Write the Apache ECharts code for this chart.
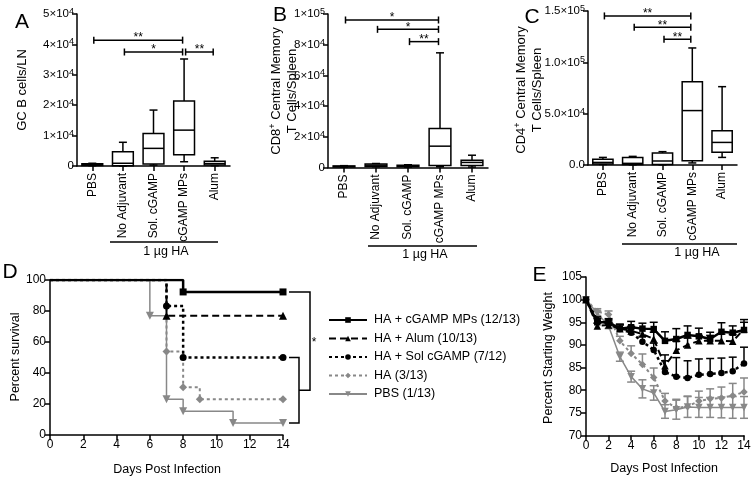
<!DOCTYPE html>
<html><head><meta charset="utf-8">
<script src="https://cdn.jsdelivr.net/npm/echarts@6/dist/echarts.min.js"></script>
<style>html,body{margin:0;padding:0;background:#fff}#c{width:754px;height:482px}</style>
</head><body><div id="c"></div><script>
// ---------- DATA ----------
const groups = ['PBS', 'No Adjuvant', 'Sol. cGAMP', 'cGAMP MPs', 'Alum'];
// box plots: [min, Q1, median, Q3, max]
const boxA = [[100,200,400,700,900],[0,100,900,4700,7800],[300,650,5800,10700,18400],[1400,3700,11800,21400,35200],[100,300,800,1600,2700]];
const boxB = [[200,400,700,1000,1200],[500,700,1500,2300,2600],[300,500,900,1500,1800],[500,1300,13900,25400,74700],[300,1300,3300,4800,8000]];
const boxC = [[500,1000,2500,5500,7400],[200,400,1600,7400,8400],[200,500,3900,11700,13000],[2000,4200,53000,81200,114000],[7400,12300,22000,33400,76300]];
// significance brackets: [fromGroup, toGroup, yValue, label]
const sigA = [[0,3,41400,'**'],[1,3,37500,'*'],[3,4,37500,'**']];
const sigB = [[0,3,96100,'*'],[1,3,90000,'*'],[2,3,82000,'**']];
const sigC = [[0,3,145200,'**'],[1,3,134200,'**'],[2,3,122500,'**']];
const ticksA = ['0','1×10^4','2×10^4','3×10^4','4×10^4','5×10^4'];
const ticksB = ['0','2×10^4','4×10^4','6×10^4','8×10^4','1×10^5'];
const ticksC = ['0.0','5.0×10^4','1.0×10^5','1.5×10^5'];

const seriesNames = ['HA + cGAMP MPs (12/13)','HA + Alum (10/13)','HA + Sol cGAMP (7/12)','HA (3/13)','PBS (1/13)'];
// survival (Kaplan-Meier)
const survMPsX = [0,8,14],        survMPsY = [100,92.3,92.3];
const survAlumX = [0,7,14],       survAlumY = [100,76.9,76.9];
const survSolX = [0,7,8,14],      survSolY = [100,83.3,50,50];
const survHAX = [0,7,8,9,14],     survHAY = [100,53.8,30.8,23.1,23.1];
const survPBSX = [0,6,7,8,11,14], survPBSY = [100,76.9,23.1,15.4,7.7,7.7];

// weight
const days = [0,1,2,3,4,5,6,7,8,9,10,11,12,13,14];
const wMPs  = [100,95.0,95.0,93.6,93.9,93.6,93.5,90.9,91.3,92.2,91.9,91.3,92.9,92.7,93.3];
const eMPs  = [0,0.8,0.8,1.0,1.3,1.2,1.5,2.0,2.3,2.0,1.8,1.5,2.0,1.5,2.3];
const wAlum = [100,94.2,94.4,93.6,93.1,92.4,91.3,85.4,88.8,90.0,90.9,90.9,90.9,90.8,93.5];
const eAlum = [0,0.6,0.6,0.8,1.0,1.2,1.5,2.4,2.0,1.5,1.2,1.2,1.5,1.5,1.5];
const wSol  = [100,95.5,94.7,93.5,92.7,90.7,88.9,84.0,83.0,82.7,83.4,83.6,83.8,84.2,85.9];
const eSol  = [0,0.7,0.8,1.0,1.0,1.2,1.5,2.5,4.2,3.8,3.5,3.4,3.3,3.1,3.6];
const wHA   = [100,97.4,96.7,90.9,88.1,85.7,82.8,77.6,76.1,76.4,77.6,78.1,78.3,78.8,79.6];
const eHA   = [0,0.6,0.8,1.0,1.7,2.3,2.1,1.7,1.9,2.3,2.2,2.2,2.4,2.7,3.1];
const wPBS  = [100,97.0,94.2,87.4,83.0,80.3,79.4,75.3,75.7,76.3,76.2,76.2,76.2,76.2,76.2];
const ePBS  = [0,0.5,0.6,1.0,1.2,2.0,1.6,1.5,2.1,2.3,2.2,2.2,2.3,2.4,2.4];

// ---------- STYLE ----------
const FF = '"Liberation Sans", Arial, sans-serif';
const BLACK = '#000', GRAY = '#888';
const supRich = {
  b: {fontSize: 11.5, lineHeight: 14, fontFamily: FF, color: BLACK},
  s: {fontSize: 9, lineHeight: 10, verticalAlign: 'top', fontFamily: FF, color: BLACK}
};
function supText(t) {
  const p = t.split('^');
  return p.length > 1 ? '{b|' + p[0] + '}{s|' + p[1] + '}' : '{b|' + p[0] + '}';
}
const axLine = {show: true, lineStyle: {color: BLACK, width: 1.5}};
const axTick = {show: true, length: 5, inside: false, lineStyle: {color: BLACK, width: 1.5}};

function catX(gi) {
  return {type: 'category', gridIndex: gi, data: groups, boundaryGap: true,
    axisLine: axLine, axisTick: Object.assign({alignWithLabel: true}, axTick),
    axisLabel: {rotate: 90, interval: 0, fontSize: 12, color: BLACK, fontFamily: FF, margin: 7},
    splitLine: {show: false}};
}
function valY(gi, max, interval, ticks) {
  return {type: 'value', gridIndex: gi, min: 0, max: max, interval: interval,
    axisLine: axLine, axisTick: axTick, splitLine: {show: false},
    axisLabel: {margin: 3, formatter: v => supText(ticks[Math.round(v / interval)]), rich: supRich}};
}
function numAxis(gi, min, max, interval, extra) {
  return Object.assign({type: 'value', gridIndex: gi, min: min, max: max, interval: interval,
    axisLine: axLine, axisTick: axTick, splitLine: {show: false},
    axisLabel: {fontSize: 12, color: BLACK, fontFamily: FF, margin: 4}}, extra || {});
}

function boxRender(params, api) {
  const x = api.value(0);
  const p = k => api.coord([x, api.value(k)]);
  const pmin = p(1), pq1 = p(2), pmed = p(3), pq3 = p(4), pmax = p(5);
  const bw = api.size([1, 0])[0] * 0.68, cw = 8, cx = pmin[0];
  const st = {stroke: BLACK, lineWidth: 1.5, fill: null};
  return {type: 'group', children: [
    {type: 'line', shape: {x1: cx, y1: pmax[1], x2: cx, y2: pmin[1]}, style: st},
    {type: 'line', shape: {x1: cx - cw / 2, y1: pmax[1], x2: cx + cw / 2, y2: pmax[1]}, style: st},
    {type: 'line', shape: {x1: cx - cw / 2, y1: pmin[1], x2: cx + cw / 2, y2: pmin[1]}, style: st},
    {type: 'rect', shape: {x: cx - bw / 2, y: pq3[1], width: bw, height: Math.max(pq1[1] - pq3[1], 1)}, style: {stroke: BLACK, lineWidth: 1.5, fill: '#fff'}},
    {type: 'line', shape: {x1: cx - bw / 2, y1: pmed[1], x2: cx + bw / 2, y2: pmed[1]}, style: st}
  ]};
}
function sigRender(params, api) {
  const a = api.coord([api.value(0), api.value(2)]);
  const b = api.coord([api.value(1), api.value(2)]);
  const x1 = a[0] + 1.5, x2 = b[0] - 1.5, y = a[1];
  const st = {stroke: BLACK, lineWidth: 1.5};
  return {type: 'group', children: [
    {type: 'line', shape: {x1: x1, y1: y, x2: x2, y2: y}, style: st},
    {type: 'line', shape: {x1: x1, y1: y - 3.5, x2: x1, y2: y + 3.5}, style: st},
    {type: 'line', shape: {x1: x2, y1: y - 3.5, x2: x2, y2: y + 3.5}, style: st},
    {type: 'text', x: (x1 + x2) / 2, y: y - 2, style: {text: api.value(3), fontSize: 12, fontFamily: FF, fill: BLACK, align: 'center', verticalAlign: 'middle'}}
  ]};
}
function boxSeries(gi, data) {
  return {type: 'custom', xAxisIndex: gi, yAxisIndex: gi, renderItem: boxRender, clip: false,
    encode: {x: 0, y: [1, 2, 3, 4, 5]}, data: data.map((d, i) => [i].concat(d)), z: 3};
}
function sigSeries(gi, data) {
  return {type: 'custom', xAxisIndex: gi, yAxisIndex: gi, renderItem: sigRender, clip: false,
    encode: {x: [0, 1], y: 2}, data: data, z: 4};
}

// survival + weight series styles
const styles = [
  {name: seriesNames[0], color: BLACK, type: 'solid', w: 2.5, sym: 'rect', size: 7, rot: 0},
  {name: seriesNames[1], color: BLACK, type: [7, 4], w: 2, sym: 'triangle', size: 8, rot: 0},
  {name: seriesNames[2], color: BLACK, type: [3, 3], w: 2.5, sym: 'circle', size: 7, rot: 0},
  {name: seriesNames[3], color: GRAY, type: [3, 3], w: 2, sym: 'path://M0,-1L1,0L0,1L-1,0Z', size: 8, rot: 0},
  {name: seriesNames[4], color: GRAY, type: 'solid', w: 1.5, sym: 'triangle', size: 8, rot: 180}
];
const survX = [survMPsX, survAlumX, survSolX, survHAX, survPBSX];
const survY = [survMPsY, survAlumY, survSolY, survHAY, survPBSY];
const wMean = [wMPs, wAlum, wSol, wHA, wPBS];
const wErr = [eMPs, eAlum, eSol, eHA, ePBS];
const errDir = ['up', 'up', 'up', 'up', 'both'];

const series = [
  boxSeries(0, boxA), sigSeries(0, sigA),
  boxSeries(1, boxB), sigSeries(1, sigB),
  boxSeries(2, boxC), sigSeries(2, sigC)
];
// draw gray first, black on top
[4, 3, 2, 1, 0].forEach(k => {
  const s = styles[k];
  series.push({
    type: 'line', name: s.name, xAxisIndex: 3, yAxisIndex: 3, step: 'end',
    symbol: s.sym, symbolSize: s.size, symbolRotate: s.rot, showSymbol: true,
    color: s.color, itemStyle: {color: s.color, borderWidth: 0},
    lineStyle: {color: s.color, width: s.w, type: s.type}, z: 5 + (4 - k),
    data: survX[k].map((x, i) => i === 0 ? {value: [x, survY[k][i]], symbol: 'none'} : [x, survY[k][i]])
  });
});
// comparison brackets on survival plot
series.push({
  type: 'custom', xAxisIndex: 3, yAxisIndex: 3, clip: false, z: 4,
  data: [[14, survMPsY[survMPsY.length - 1], survSolY[survSolY.length - 1], survPBSY[survPBSY.length - 1]]],
  renderItem: function (params, api) {
    const top = api.coord([api.value(0), api.value(1)]);
    const iTop = api.coord([api.value(0), api.value(2)]);
    const iBot = api.coord([api.value(0), api.value(3)]);
    const x0 = top[0] + 6, x1 = x0 + 10, x2 = x0 + 21, mid = (iTop[1] + iBot[1]) / 2;
    const st = {stroke: BLACK, lineWidth: 1.5};
    return {type: 'group', children: [
      {type: 'polyline', shape: {points: [[x0, iTop[1]], [x1, iTop[1]], [x1, iBot[1]], [x0, iBot[1]]]}, style: Object.assign({fill: null}, st)},
      {type: 'polyline', shape: {points: [[x0, top[1]], [x2, top[1]], [x2, mid], [x1, mid]]}, style: Object.assign({fill: null}, st)},
      {type: 'text', x: x2 + 4, y: (top[1] + mid) / 2 + 2, style: {text: '*', fontSize: 12, fontFamily: FF, fill: BLACK, align: 'center', verticalAlign: 'middle'}}
    ]};
  }
});
// weight curves with error bars
[4, 3, 2, 1, 0].forEach(k => {
  const s = styles[k];
  const dir = errDir[k];
  series.push({
    type: 'custom', xAxisIndex: 4, yAxisIndex: 4, clip: false, z: 5 + (4 - k),
    data: days.map((d, i) => [d, wMean[k][i], wErr[k][i]]),
    encode: {x: 0, y: 1},
    renderItem: function (params, api) {
      const x = api.value(0), m = api.value(1), e = api.value(2);
      if (!e) return null;
      const hi = api.coord([x, m + e]);
      const lo = dir === 'both' ? api.coord([x, m - e]) : api.coord([x, m]);
      const st = {stroke: s.color, lineWidth: 1.5};
      const ch = [
        {type: 'line', shape: {x1: hi[0], y1: hi[1], x2: lo[0], y2: lo[1]}, style: st},
        {type: 'line', shape: {x1: hi[0] - 4, y1: hi[1], x2: hi[0] + 4, y2: hi[1]}, style: st}
      ];
      if (dir === 'both') ch.push({type: 'line', shape: {x1: lo[0] - 4, y1: lo[1], x2: lo[0] + 4, y2: lo[1]}, style: st});
      return {type: 'group', children: ch};
    }
  });
  series.push({
    type: 'line', name: s.name, xAxisIndex: 4, yAxisIndex: 4,
    symbol: s.sym, symbolSize: s.size - 0.5, symbolRotate: s.rot, showSymbol: true,
    color: s.color, itemStyle: {color: s.color, borderWidth: 0},
    lineStyle: {color: s.color, width: s.w, type: s.type}, z: 6 + (4 - k),
    data: days.map((d, i) => [d, wMean[k][i]])
  });
});

function txt(x, y, text, size, rot, rich) {
  const st = {text: text, fontSize: size, fontFamily: FF, fill: BLACK, align: 'center', verticalAlign: 'middle'};
  if (rich) st.rich = rich;
  return {type: 'text', x: x, y: y, rotation: rot ? Math.PI / 2 : 0, style: st, z: 10};
}
function ln(x1, y1, x2, y2) {
  return {type: 'line', shape: {x1: x1, y1: y1, x2: x2, y2: y2}, style: {stroke: BLACK, lineWidth: 1.5}, z: 10};
}
const titleRich = {
  n: {fontSize: 13, lineHeight: 16, fontFamily: FF, color: BLACK},
  s: {fontSize: 9, lineHeight: 10, verticalAlign: 'top', fontFamily: FF, color: BLACK}
};

const option = {
  animation: false,
  backgroundColor: '#fff',
  textStyle: {fontFamily: FF, color: BLACK},
  grid: [
    {left: 77, top: 14, width: 153, height: 152},
    {left: 328, top: 14, width: 160, height: 153.5},
    {left: 588, top: 11, width: 149, height: 154},
    {left: 50, top: 280, width: 233, height: 155},
    {left: 586, top: 277, width: 158, height: 158.5}
  ],
  xAxis: [catX(0), catX(1), catX(2),
    numAxis(3, 0, 14, 2), numAxis(4, 0, 14, 2)],
  yAxis: [valY(0, 50000, 10000, ticksA), valY(1, 100000, 20000, ticksB), valY(2, 150000, 50000, ticksC),
    numAxis(3, 0, 100, 20), numAxis(4, 70, 105, 5)],
  legend: {
    orient: 'vertical', left: 328, top: 313.5, padding: 0, itemWidth: 38, itemHeight: 7, itemGap: 5.5,
    data: seriesNames, selectedMode: false,
    textStyle: {fontSize: 12.5, color: BLACK, fontFamily: FF, padding: [0, 0, 0, 2]}
  },
  series: series,
  graphic: [
    txt(22, 22.5, 'A', 21), txt(280, 15, 'B', 21), txt(532, 17, 'C', 21), txt(10, 272.5, 'D', 21), txt(539.5, 275.5, 'E', 21),
    txt(22, 90, 'GC B cells/LN', 13, true),
    txt(284, 91, '{n|CD8}{s|+}{n| Central Memory}\n{n|T Cells/Spleen}', 13, true, titleRich),
    txt(529, 90, '{n|CD4}{s|+}{n| Central Memory}\n{n|T Cells/Spleen}', 13, true, titleRich),
    ln(110, 242, 218, 242), txt(166, 252, '1 µg HA', 12.5),
    ln(368, 246, 477, 246), txt(425, 255, '1 µg HA', 12.5),
    ln(622, 244, 737, 244), txt(697, 253, '1 µg HA', 12.5),
    txt(16, 357, 'Percent survival', 12.5, true),
    txt(167, 470, 'Days Post Infection', 12.5),
    txt(549, 358, 'Percent Starting Weight', 12.5, true),
    txt(664, 469, 'Days Post Infection', 12.5)
  ]
};
const chart = echarts.init(document.getElementById('c'), null, {renderer: 'canvas'});
chart.setOption(option);
</script></body></html>
